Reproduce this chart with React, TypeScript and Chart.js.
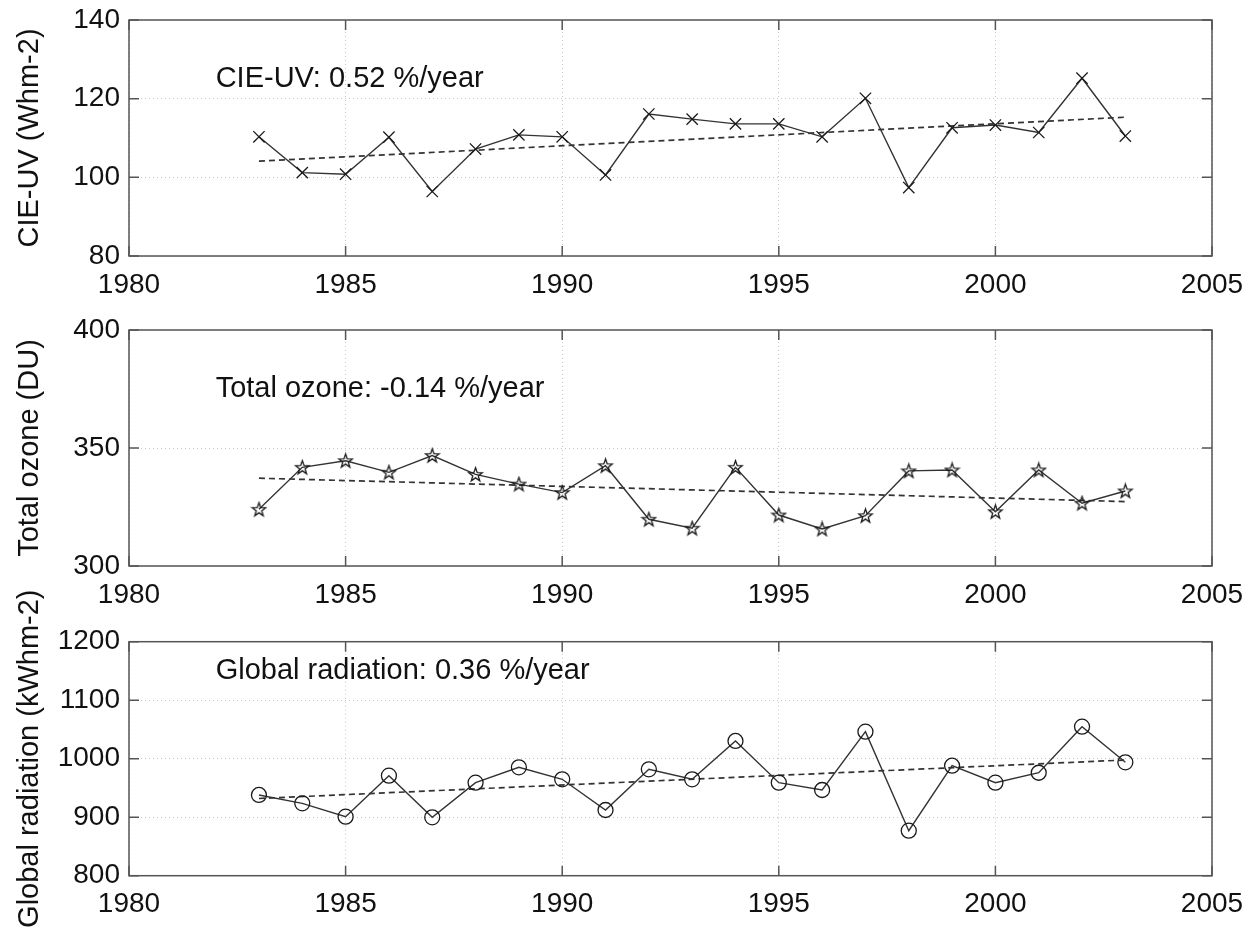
import React, { useEffect, useRef } from "react";
import { Chart, registerables } from "chart.js";

Chart.register(...registerables);

// Annual series, 1983–2003
const years = [1983, 1984, 1985, 1986, 1987, 1988, 1989, 1990, 1991, 1992, 1993, 1994, 1995, 1996, 1997, 1998, 1999, 2000, 2001, 2002, 2003];
const cieUv = [110.3, 101.2, 100.8, 110.2, 96.4, 107.2, 110.8, 110.3, 100.6, 116.1, 114.8, 113.6, 113.6, 110.3, 120.1, 97.4, 112.6, 113.3, 111.4, 125.2, 110.5];
const totalOzone = [324.0, 341.8, 344.6, 339.7, 346.8, 338.8, 334.7, 331.1, 342.5, 319.8, 316.0, 341.8, 321.6, 315.7, 321.3, 340.3, 340.7, 323.0, 340.7, 326.6, 331.8];
const globalRadiation = [938, 923.7, 900.9, 971, 899.8, 959, 985.3, 964.8, 912.3, 981.9, 964.8, 1030.3, 959, 946.5, 1046.2, 876.9, 988, 959, 976, 1054.7, 993.8];

// Linear trend end points (1983, 2003)
const trendYears = [1983, 2003];
const cieUvTrend = [104.1, 115.3];
const totalOzoneTrend = [337.2, 327.3];
const globalRadiationTrend = [932, 997.8];

// Axis ranges and ticks
const xTicks = { min: 1980, max: 2005, step: 5 };
const cieUvAxis = { min: 80, max: 140, step: 20 };
const ozoneAxis = { min: 300, max: 400, step: 50 };
const radiationAxis = { min: 800, max: 1200, step: 100 };

const FONT = "'Liberation Sans', Arial, Helvetica, sans-serif";
const INK = "#111";

function makePentagram(): HTMLCanvasElement {
  const c = document.createElement("canvas");
  c.width = 17;
  c.height = 17;
  const g = c.getContext("2d")!;
  g.strokeStyle = "#1a1a1a";
  g.lineWidth = 1.3;
  g.beginPath();
  for (let i = 0; i < 10; i++) {
    const r = i % 2 === 0 ? 7.2 : 2.9;
    const a = -Math.PI / 2 + (i * Math.PI) / 5;
    const px = 8.5 + r * Math.cos(a);
    const py = 9 + r * Math.sin(a);
    if (i === 0) g.moveTo(px, py);
    else g.lineTo(px, py);
  }
  g.closePath();
  g.stroke();
  return c;
}

type PanelCfg = {
  top: number;
  height: number;
  padTop: number;
  xAxisH: number;
  axis: { min: number; max: number; step: number };
  title: string;
  values: number[];
  trend: number[];
  marker: "crossRot" | "circle" | "pentagram";
  radius: number;
  note: string;
  noteX: number;
  noteY: number;
};

function Panel({ cfg }: { cfg: PanelCfg }) {
  const ref = useRef<HTMLCanvasElement>(null);

  useEffect(() => {
    const pointStyle: any = cfg.marker === "pentagram" ? makePentagram() : cfg.marker;

    // Box around the plot, inward ticks on all four sides, and the trend note
    const frame = {
      id: "frame",
      afterDraw(chart: any) {
        const { ctx, chartArea: a, scales } = chart;
        const x = scales.x;
        const y = scales.y;
        ctx.save();
        ctx.strokeStyle = "#555";
        ctx.lineWidth = 1.5;
        ctx.strokeRect(a.left, a.top, a.right - a.left, a.bottom - a.top);
        const L = 10;
        ctx.beginPath();
        x.ticks.forEach((t: any) => {
          const px = x.getPixelForValue(t.value);
          ctx.moveTo(px, a.bottom);
          ctx.lineTo(px, a.bottom - L);
          ctx.moveTo(px, a.top);
          ctx.lineTo(px, a.top + L);
        });
        y.ticks.forEach((t: any) => {
          const py = y.getPixelForValue(t.value);
          ctx.moveTo(a.left, py);
          ctx.lineTo(a.left + L, py);
          ctx.moveTo(a.right, py);
          ctx.lineTo(a.right - L, py);
        });
        ctx.stroke();
        ctx.fillStyle = INK;
        ctx.font = `29px ${FONT}`;
        ctx.textAlign = "left";
        ctx.textBaseline = "middle";
        ctx.fillText(cfg.note, x.getPixelForValue(cfg.noteX), y.getPixelForValue(cfg.noteY));
        ctx.restore();
      },
    };

    const chart = new Chart(ref.current!, {
      type: "line",
      data: {
        datasets: [
          {
            data: years.map((yr, i) => ({ x: yr, y: cfg.values[i] })),
            borderColor: "#333",
            borderWidth: 1.4,
            pointStyle,
            pointRadius: cfg.radius,
            pointBorderWidth: 1.3,
            pointBorderColor: "#1a1a1a",
            pointBackgroundColor: "rgba(0,0,0,0)",
            tension: 0,
          },
          {
            data: trendYears.map((yr, i) => ({ x: yr, y: cfg.trend[i] })),
            borderColor: "#333",
            borderWidth: 1.7,
            borderDash: [6, 4],
            pointRadius: 0,
            tension: 0,
          },
        ],
      },
      options: {
        responsive: false,
        animation: false,
        layout: { padding: { top: cfg.padTop, right: 35, left: 0, bottom: 0 } },
        plugins: { legend: { display: false }, tooltip: { enabled: false } },
        scales: {
          x: {
            type: "linear",
            min: xTicks.min,
            max: xTicks.max,
            ticks: {
              stepSize: xTicks.step,
              padding: 12,
              color: INK,
              font: { family: FONT, size: 28 },
              callback: (v: any) => String(v),
              maxRotation: 0,
            },
            grid: { color: "#c4c4c4", lineWidth: 1, drawTicks: false },
            border: { display: false, dash: [1, 3] },
            afterFit: (s: any) => {
              s.height = cfg.xAxisH;
              s.paddingLeft = 0;
              s.paddingRight = 0;
            },
          },
          y: {
            min: cfg.axis.min,
            max: cfg.axis.max,
            ticks: {
              stepSize: cfg.axis.step,
              padding: 9,
              color: INK,
              font: { family: FONT, size: 28 },
              callback: (v: any) => String(v),
            },
            grid: { color: "#c4c4c4", lineWidth: 1, drawTicks: false },
            border: { display: false, dash: [1, 3] },
            title: {
              display: true,
              text: cfg.title,
              color: INK,
              font: { family: FONT, size: 29 },
              padding: { top: 13, bottom: 0 },
            },
            afterFit: (s: any) => {
              s.width = 129;
              s.paddingTop = 0;
              s.paddingBottom = 0;
            },
          },
        },
      },
      plugins: [frame],
    } as any);

    return () => chart.destroy();
  }, [cfg]);

  return (
    <canvas
      ref={ref}
      width={1247}
      height={cfg.height}
      style={{ position: "absolute", left: 0, top: cfg.top }}
    />
  );
}

const panels: PanelCfg[] = [
  {
    top: 0,
    height: 310,
    padTop: 20,
    xAxisH: 54,
    axis: cieUvAxis,
    title: "CIE-UV (Whm-2)",
    values: cieUv,
    trend: cieUvTrend,
    marker: "crossRot",
    radius: 8,
    note: "CIE-UV: 0.52 %/year",
    noteX: 1982,
    noteY: 125,
  },
  {
    top: 310,
    height: 310,
    padTop: 20,
    xAxisH: 54,
    axis: ozoneAxis,
    title: "Total ozone (DU)",
    values: totalOzone,
    trend: totalOzoneTrend,
    marker: "pentagram",
    radius: 7,
    note: "Total ozone: -0.14 %/year",
    noteX: 1982,
    noteY: 375,
  },
  {
    top: 560,
    height: 369,
    padTop: 81.7,
    xAxisH: 53.3,
    axis: radiationAxis,
    title: "Global radiation (kWhm-2)",
    values: globalRadiation,
    trend: globalRadiationTrend,
    marker: "circle",
    radius: 7.5,
    note: "Global radiation: 0.36 %/year",
    noteX: 1982,
    noteY: 1150,
  },
];

export default function App() {
  return (
    <div style={{ position: "absolute", left: 0, top: 0, width: 1247, height: 929, background: "#fff" }}>
      {panels.map((p, i) => (
        <Panel key={i} cfg={p} />
      ))}
    </div>
  );
}
